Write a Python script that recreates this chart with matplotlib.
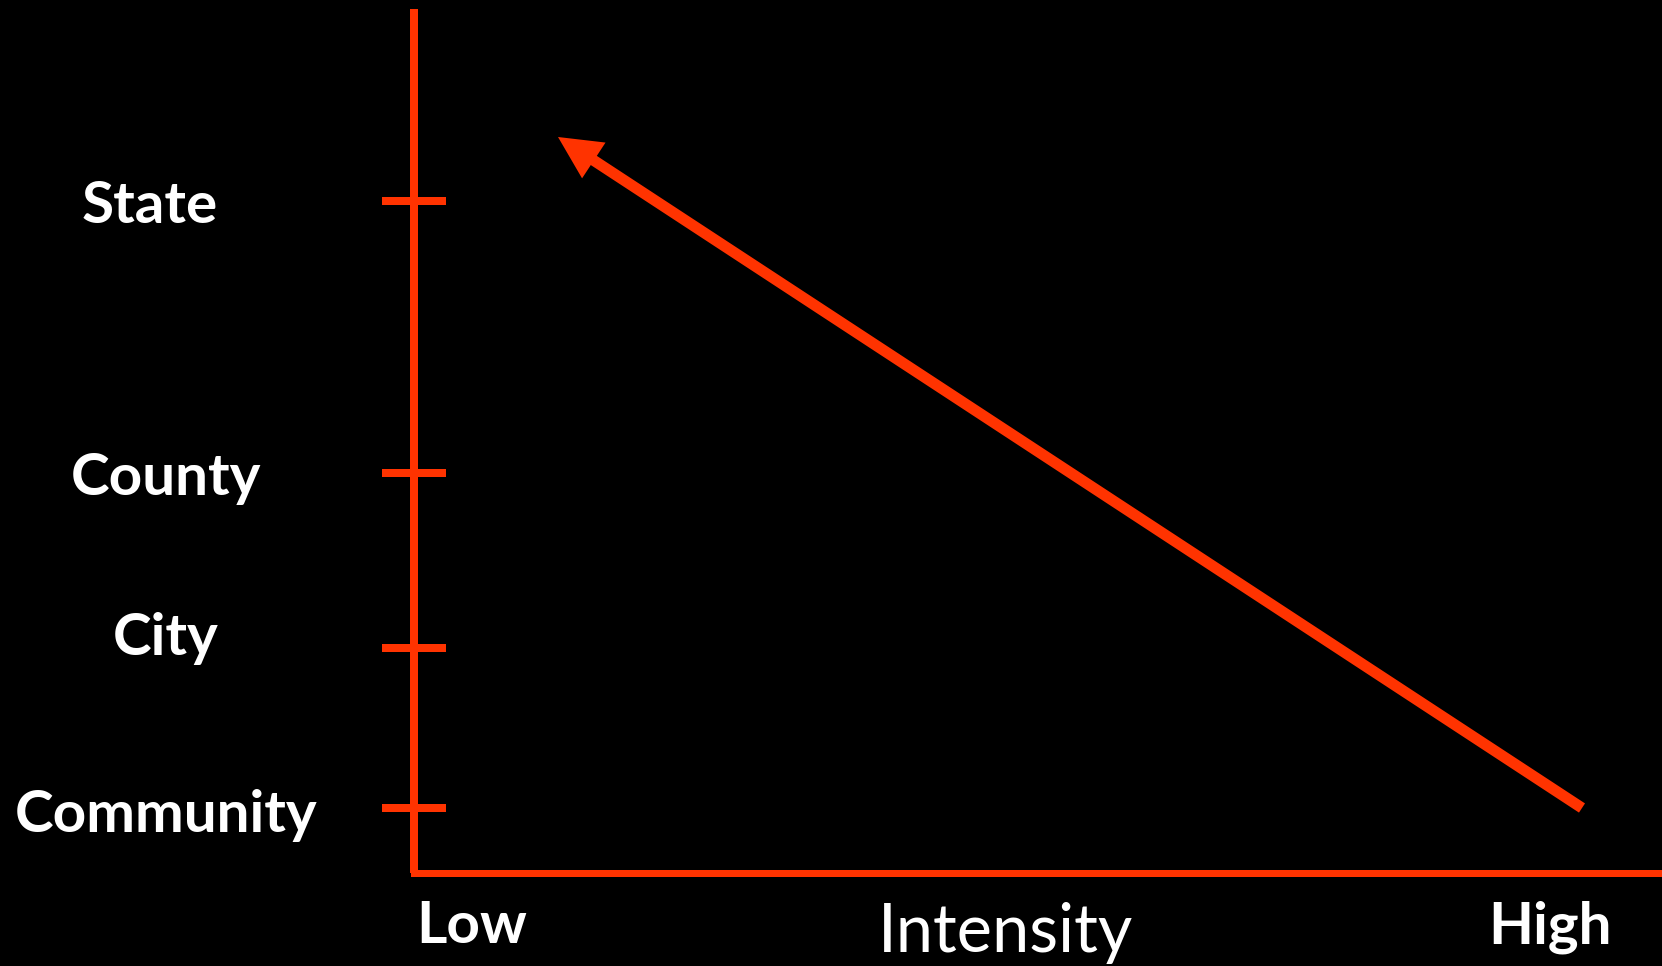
import matplotlib
matplotlib.use("Agg")
import matplotlib.pyplot as plt

# ---- data ----
levels = ["Community", "City", "County", "State"]
level_pos = [65, 225, 400, 672]          # vertical position of each level
intensity_labels = ["Low", "High"]
intensity_pos = [58, 1136]
arrow_start = (1168, 65)                 # (intensity, level) of tail
arrow_end = (144, 736)                   # (intensity, level) of head
x_title = "Intensity"

# ---- layout (label placement relative to ticks) ----
label_x = [-248, -248, -248, -264]
label_baseline_off = [-24, -7, -22, -22]

RED = "#FF3300"
W, H, DPI = 1662, 966, 100
plt.rcParams["font.family"] = ["Lato", "DejaVu Sans"]

fig = plt.figure(figsize=(W / DPI, H / DPI), dpi=DPI, facecolor="black")
x0, y0 = 414, 873  # axis origin in pixels (from top-left)
ax = fig.add_axes([x0 / W, (H - y0) / H, (W - x0) / W, (y0 - 9) / H])
ax.set_facecolor("black")
ax.set_xlim(0, W - x0)
ax.set_ylim(0, y0 - 9)

for s in ["top", "right"]:
    ax.spines[s].set_visible(False)
lw = 8 * 72 / DPI
ax.spines["left"].set_color(RED)
ax.spines["left"].set_linewidth(lw)
ax.spines["bottom"].set_color(RED)
ax.spines["bottom"].set_linewidth(7 * 72 / DPI)
ax.spines["left"].set_capstyle("butt")

ax.set_yticks(level_pos)
ax.set_yticklabels([])
ax.tick_params(axis="y", direction="inout", length=64 * 72 / DPI, width=lw, color=RED)
ax.set_xticks([])

for lab, y, lx, off in zip(levels, level_pos, label_x, label_baseline_off):
    ax.text(lx, y + off, lab, ha="center", va="baseline", color="white",
            fontsize=42, fontweight="bold", clip_on=False)

for lab, x in zip(intensity_labels, intensity_pos):
    ax.text(x, -70, lab, ha="center", va="baseline", color="white",
            fontsize=42, fontweight="bold", clip_on=False)

ax.text(592, -79, x_title, ha="center", va="baseline", color="white",
        fontsize=48, clip_on=False)

ax.annotate("", xy=arrow_end, xytext=arrow_start,
            arrowprops=dict(arrowstyle="-|>,head_length=1.0,head_width=0.5",
                            lw=11 * 72 / DPI, color=RED, mutation_scale=18,
                            shrinkA=0, shrinkB=0, joinstyle="miter",
                            capstyle="butt"),
            annotation_clip=False)

fig.savefig("out.png", dpi=DPI, facecolor="black")
